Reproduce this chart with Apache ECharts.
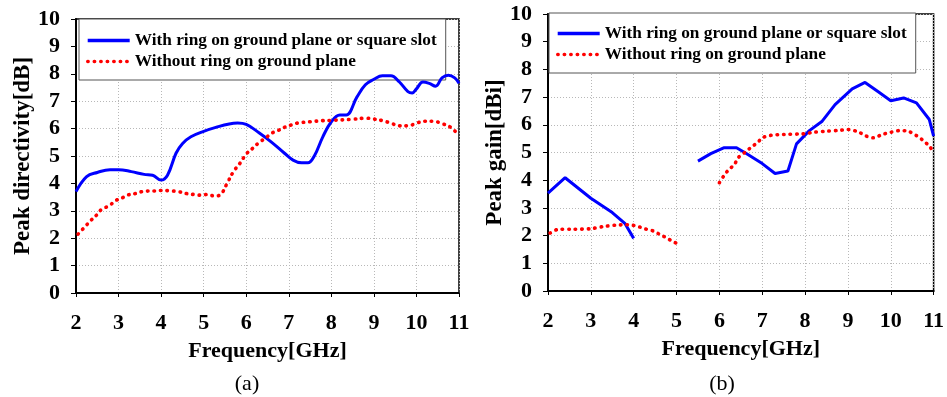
<!DOCTYPE html>
<html>
<head>
<meta charset="utf-8">
<script src="https://cdn.jsdelivr.net/npm/echarts@6/dist/echarts.min.js"></script>
<style>
  html, body { margin: 0; padding: 0; background: #fff; }
  #chart { width: 947px; height: 397px; }
</style>
</head>
<body>
<div id="chart"></div>
<script>
// frequency ticks / value ticks
const freqMin = 2, freqMax = 11;
const valMin = 0, valMax = 10;
const seriesNames = ['With ring on ground plane or square slot', 'Without ring on ground plane'];

// (a) peak directivity [dB]
const directivityWith = [
  [2.0, 3.7], [2.25, 4.25], [2.5, 4.4], [2.8, 4.5], [3.0, 4.5], [3.3, 4.43], [3.6, 4.33],
  [3.8, 4.3], [4.0, 4.12], [4.15, 4.3], [4.35, 5.1], [4.5, 5.45], [4.7, 5.7], [5.0, 5.9],
  [5.3, 6.05], [5.6, 6.17], [5.8, 6.2], [6.0, 6.15], [6.3, 5.85], [6.6, 5.5], [6.9, 5.1],
  [7.1, 4.85], [7.3, 4.75], [7.45, 4.75], [7.6, 5.0], [7.8, 5.7], [8.0, 6.25], [8.2, 6.5],
  [8.35, 6.5], [8.6, 7.15], [8.8, 7.6], [9.0, 7.8], [9.2, 7.93], [9.4, 7.93], [9.6, 7.7],
  [9.8, 7.35], [9.9, 7.3], [10.0, 7.45], [10.15, 7.7], [10.3, 7.65], [10.45, 7.55],
  [10.6, 7.85], [10.75, 7.95], [10.9, 7.85], [11.0, 7.65]
];
const directivityWithout = [
  [2.05, 2.15], [2.2, 2.4], [2.35, 2.65], [2.5, 2.87], [2.6, 3.05], [2.8, 3.2], [2.9, 3.35],
  [3.1, 3.48], [3.2, 3.57], [3.4, 3.63], [3.55, 3.7], [3.7, 3.72], [3.85, 3.72], [4.0, 3.74],
  [4.2, 3.73], [4.4, 3.7], [4.6, 3.63], [4.8, 3.59], [4.95, 3.57], [5.1, 3.6], [5.25, 3.54],
  [5.4, 3.6], [5.55, 4.0], [5.7, 4.43], [5.85, 4.73], [6.0, 5.07], [6.15, 5.28], [6.3, 5.49],
  [6.45, 5.65], [6.6, 5.83], [6.75, 5.93], [6.9, 6.05], [7.05, 6.13], [7.2, 6.2], [7.5, 6.25],
  [7.8, 6.29], [8.0, 6.3], [8.5, 6.34], [8.8, 6.38], [9.0, 6.35], [9.2, 6.29], [9.4, 6.2],
  [9.6, 6.1], [9.8, 6.1], [10.0, 6.2], [10.2, 6.27], [10.4, 6.27], [10.6, 6.18], [10.8, 6.05],
  [11.0, 5.75]
];

// (b) peak gain [dBi], two measured bands each
const gainWithLow = [[2.0, 3.53], [2.4, 4.09], [3.0, 3.35], [3.5, 2.83], [3.8, 2.43], [4.0, 1.9]];
const gainWithHigh = [
  [5.5, 4.69], [5.8, 4.96], [6.1, 5.17], [6.4, 5.17], [6.6, 4.99], [7.0, 4.6], [7.3, 4.24],
  [7.6, 4.33], [7.8, 5.31], [8.1, 5.79], [8.4, 6.13], [8.7, 6.73], [9.1, 7.3], [9.4, 7.53],
  [9.7, 7.2], [10.0, 6.87], [10.3, 6.97], [10.6, 6.79], [10.9, 6.19], [11.0, 5.59]
];
const gainWithoutLow = [
  [2.05, 2.09], [2.25, 2.23], [2.6, 2.23], [3.0, 2.25], [3.3, 2.33], [3.6, 2.38], [3.8, 2.39],
  [3.95, 2.38], [4.1, 2.33], [4.25, 2.25], [4.45, 2.17], [4.6, 2.05], [4.75, 1.93],
  [4.9, 1.8], [5.0, 1.72]
];
const gainWithoutHigh = [
  [6.0, 3.91], [6.1, 4.15], [6.2, 4.35], [6.35, 4.57], [6.45, 4.83], [6.6, 5.01], [6.75, 5.2],
  [6.9, 5.37], [7.0, 5.53], [7.2, 5.62], [7.5, 5.65], [7.9, 5.67], [8.0, 5.68], [8.2, 5.73],
  [8.5, 5.77], [8.8, 5.8], [9.0, 5.83], [9.25, 5.74], [9.4, 5.61], [9.6, 5.53], [9.8, 5.65],
  [10.0, 5.73], [10.2, 5.79], [10.4, 5.77], [10.6, 5.61], [10.75, 5.44], [10.9, 5.23],
  [11.0, 5.01]
];

const serif = 'Liberation Serif';
const blueLine = { color: '#0000ff', width: 3 };
const redDots = { color: '#ff0000', width: 3.6, type: [0.5, 6], cap: 'round' };

function xAxisFor(gridIndex) {
  return {
    type: 'value', gridIndex, min: freqMin, max: freqMax, interval: 1,
    name: 'Frequency[GHz]', nameLocation: 'middle', nameGap: 47,
    nameTextStyle: { fontFamily: serif, fontWeight: 'bold', fontSize: 22, color: '#000' },
    axisLine: { lineStyle: { color: '#000', width: 2 } },
    axisTick: { show: true, length: 4, lineStyle: { color: '#000' } },
    axisLabel: { margin: 19, fontFamily: serif, fontWeight: 'bold', fontSize: 22, color: '#000' },
    splitLine: { show: true, lineStyle: { color: '#b8b8b8', type: [1, 2] } }
  };
}
function yAxisFor(gridIndex, name, gap) {
  return {
    type: 'value', gridIndex, min: valMin, max: valMax, interval: 1,
    name, nameLocation: 'middle', nameGap: gap,
    nameTextStyle: { fontFamily: serif, fontWeight: 'bold', fontSize: 23, color: '#000' },
    axisLine: { show: true, lineStyle: { color: '#000', width: 2 } },
    axisTick: { show: true, length: 5, lineStyle: { color: '#000' } },
    axisLabel: { margin: 16, fontFamily: serif, fontWeight: 'bold', fontSize: 22, color: '#000' },
    splitLine: { show: true, lineStyle: { color: '#b8b8b8', type: [1, 2] } }
  };
}
function legendFor(left, top, padTop) {
  return {
    data: seriesNames, orient: 'vertical', left, top,
    itemWidth: 42, itemHeight: 14, itemGap: 4,
    padding: [padTop, 9, 10, 7],
    borderColor: '#555', borderWidth: 1, backgroundColor: '#fff',
    selectedMode: false, z: 3,
    itemStyle: { color: 'rgba(0,0,0,0)', borderColor: 'rgba(0,0,0,0)', borderWidth: 0 },
    lineStyle: { width: 3.4 },
    textStyle: { fontFamily: serif, fontWeight: 'bold', fontSize: 17.3, color: '#000' }
  };
}
function line(name, data, xi, style, smooth) {
  return {
    name, type: 'line', xAxisIndex: xi, yAxisIndex: xi, data,
    smooth, symbol: 'none', lineStyle: style, itemStyle: { color: style.color },
    z: 5
  };
}

const chart = echarts.init(document.getElementById('chart'));
chart.setOption({
  animation: false,
  title: [
    { text: '(a)', left: 242, top: 368, textAlign: 'center',
      textStyle: { fontFamily: serif, fontWeight: 'normal', fontSize: 22, color: '#000' } },
    { text: '(b)', left: 717, top: 368, textAlign: 'center',
      textStyle: { fontFamily: serif, fontWeight: 'normal', fontSize: 22, color: '#000' } }
  ],
  grid: [
    { left: 76, right: 488, top: 19, bottom: 104, show: true, borderColor: '#000', borderWidth: 1.5 },
    { left: 548, right: 13, top: 14, bottom: 106, show: true, borderColor: '#000', borderWidth: 1.5 }
  ],
  legend: [legendFor(79, 19, 13), legendFor(549, 13, 12)],
  xAxis: [xAxisFor(0), xAxisFor(1)],
  yAxis: [yAxisFor(0, 'Peak directivity[dB]', 41), yAxisFor(1, 'Peak gain[dBi]', 38)],
  series: [
    line(seriesNames[0], directivityWith, 0, blueLine, 0.4),
    line(seriesNames[1], directivityWithout, 0, redDots, 0.4),
    line(seriesNames[0], gainWithLow, 1, blueLine, false),
    line(seriesNames[0], gainWithHigh, 1, blueLine, false),
    line(seriesNames[1], gainWithoutLow, 1, redDots, 0.3),
    line(seriesNames[1], gainWithoutHigh, 1, redDots, 0.3)
  ]
});
</script>
</body>
</html>
